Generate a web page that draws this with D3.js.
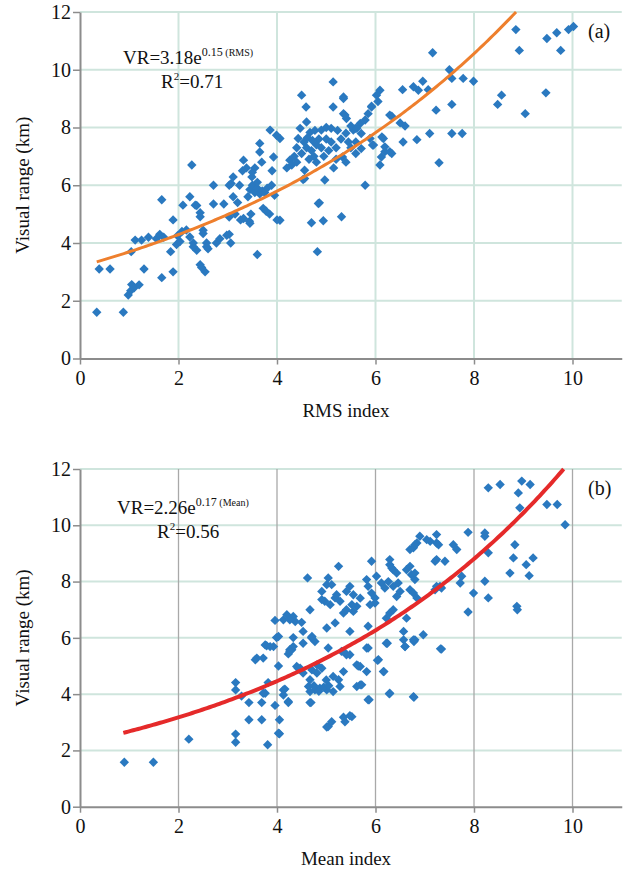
<!DOCTYPE html>
<html>
<head>
<meta charset="utf-8">
<script src="https://cdn.jsdelivr.net/npm/d3@7"></script>
<style>
  body { margin: 0; background: #fff; }
  svg text { font-family: "Liberation Serif", "Times New Roman", serif; fill: #111; }
</style>
</head>
<body>
<script>
//data (x index, visual range km)
var rmsPoints = [
  [0.34,1.6],[0.88,1.6],[0.39,3.1],[0.61,3.1],
  [0.98,2.2],[1.03,2.35],[1.05,2.56],[1.1,2.45],[1.2,2.55],[1.3,3.1],
  [1.04,3.7],[1.12,4.1],[1.25,4.1],[1.39,4.2],[1.55,4.15],[1.62,4.3],[1.7,4.2],
  [1.66,5.5],[1.66,2.8],[1.89,3.0],[1.84,3.7],[1.89,4.8],[1.96,3.95],[2.03,4.05],[1.98,4.25],
  [2.09,5.31],[2.23,5.6],[2.16,4.45],[2.07,4.4],[2.37,5.3],[2.44,5.05],[2.3,4.0],[2.37,3.75],
  [2.44,3.25],[2.54,3.0],[2.5,4.44],[2.57,4.0],[2.6,3.8],[2.71,6.0],[2.71,5.35],[2.77,4.0],
  [2.84,4.15],[2.92,5.35],[2.27,6.7],[2.23,4.21],[2.5,4.33],[2.57,3.87],[2.3,3.87],[2.98,4.27],[2.47,3.15],
  [2.34,5.31],[2.44,4.91],
  [3.03,6.0],[3.11,5.6],[3.03,4.9],[3.06,4.0],[3.03,4.3],[3.24,6.0],[3.26,4.8],[3.41,5.6],
  [3.44,4.75],[3.47,5.0],[3.6,3.6],[3.45,5.85],[3.5,6.0],[3.55,5.75],[3.6,5.9],[3.65,5.7],
  [3.7,5.8],[3.75,5.75],[3.8,5.9],[3.72,5.2],[3.78,5.1],[3.85,5.0],[4.0,4.8],[3.95,5.65],
  [3.89,6.0],[3.11,6.29],[3.07,6.06],[3.49,6.29],[3.32,6.87],[3.38,6.6],[3.65,7.45],[3.65,7.15],
  [3.69,6.8],[3.93,6.98],[3.9,6.5],[3.86,7.91],[3.99,7.73],[4.06,7.62],[3.2,5.4],[3.5,6.45],
  [3.3,6.5],[3.6,6.1],[3.55,6.6],[3.15,5.0],[3.32,4.85],[3.45,4.68],[4.06,4.79],
  [4.26,6.87],[4.56,6.52],[4.56,6.23],[4.5,9.12],[4.59,8.71],[4.6,8.19],[4.47,7.97],[4.67,7.83],
  [4.77,7.9],[4.9,7.91],[4.43,7.62],[4.53,6.2],[4.86,5.39],[4.7,4.7],[4.94,4.77],[4.82,3.7],
  [4.84,5.37],[4.97,6.18],[4.3,6.7],[4.35,7.0],[4.4,6.8],[4.5,7.1],[4.6,7.3],[4.7,7.2],
  [4.75,7.0],[4.8,7.4],[4.85,7.6],[4.9,7.3],[4.95,7.0],[4.65,6.9],[4.4,7.3],[4.55,7.5],
  [4.8,6.8],[4.2,6.6],[4.62,7.65],[4.72,7.55],
  [5.14,9.58],[5.35,9.06],[5.14,8.71],[5.35,8.48],[5.41,8.31],[5.1,7.97],[5.23,7.9],[5.31,4.91],
  [5.55,7.91],[5.71,7.79],[5.69,8.14],[5.59,7.97],[5.79,8.26],[5.85,8.48],[5.92,8.71],[5.79,6.0],
  [5.94,7.39],[5.71,7.27],[5.33,6.98],[5.89,7.62],[5.96,7.39],[5.35,9.0],[5.38,8.43],[5.0,7.6],
  [5.05,7.2],[5.1,7.5],[5.2,7.3],[5.3,7.6],[5.4,7.8],[5.45,7.5],[5.5,7.3],[5.6,7.1],
  [5.2,6.9],[5.15,6.6],[5.4,6.8],[5.6,7.5],[5.0,8.0],[5.5,8.05],[5.62,7.97],
  [6.09,9.29],[6.02,9.12],[6.29,8.43],[6.09,6.7],[6.12,6.98],[6.19,7.16],[6.29,7.16],[6.16,7.62],
  [6.13,7.67],[6.19,7.33],[6.33,7.1],[6.55,9.31],[6.77,9.41],[6.87,9.29],[6.96,9.6],[6.33,8.39],
  [6.5,8.16],[6.6,8.05],[6.84,7.58],[6.56,7.5],[5.92,8.74],[6.05,8.9],
  [7.07,9.31],[7.16,10.59],[7.5,10.0],[7.55,9.7],[7.78,9.7],[7.99,9.6],[7.23,8.6],[7.55,8.8],
  [7.55,7.79],[7.76,7.79],[7.1,7.79],[7.29,6.78],[8.56,9.12],[8.48,8.8],[9.04,8.48],[9.46,9.2],
  [8.85,11.39],[8.92,10.67],[9.48,11.08],[9.68,11.28],[9.76,10.67],[9.92,11.39],[10.02,11.5]
];

var meanPoints = [
  [0.9,1.58],[1.49,1.58],[2.21,2.4],[3.16,2.58],[3.16,2.29],[3.81,2.2],[4.05,2.59],[4.05,3.09],
  [3.69,3.09],[3.43,3.09],[3.96,3.6],[3.43,3.7],[3.69,3.7],[4.23,3.7],[4.13,3.97],[4.16,4.18],
  [3.16,4.41],[3.16,4.15],[3.28,3.93],[3.76,4.03],[3.82,4.41],[3.56,5.22],[3.72,5.28],[3.79,5.72],
  [3.93,5.69],[4.03,5.0],[4.23,5.43],[4.3,5.58],[4.43,4.92],[4.53,4.75],[4.67,3.7],
  [4.62,8.13],[4.67,7.0],[3.96,6.62],[4.13,6.64],[4.2,6.82],[4.33,6.76],[4.37,6.58],[3.99,6.01],
  [4.33,6.01],[4.53,6.23],[4.5,6.55],[4.26,5.58],[3.76,5.75],[3.86,5.69],[4.7,6.0],
  [5.25,8.54],[5.92,8.72],[5.04,8.13],[5.01,7.89],[5.11,7.89],[5.48,7.83],[5.41,7.65],[5.55,7.53],
  [5.69,7.41],[5.62,7.12],[5.55,6.94],[5.82,8.07],[5.85,7.83],[5.92,7.59],[5.99,7.42],[6.02,8.19],
  [6.12,7.95],[6.19,7.77],[5.89,7.18],[5.99,7.24],[6.29,8.6],[6.36,8.42],[6.43,8.3],[6.26,8.0],
  [6.36,7.83],[6.46,7.95],[6.5,7.65],[6.43,7.47],[6.63,8.42],[6.73,8.24],[6.8,8.07],[6.77,9.2],
  [6.84,9.37],[6.7,7.71],[6.77,7.59],[6.84,7.42],[7.11,9.43],[7.24,9.37],[7.21,8.72],[7.41,8.72],
  [7.24,7.83],[7.34,7.77],[6.29,6.88],[6.36,7.0],[6.22,6.7],[6.63,6.7],[6.57,6.23],[6.57,5.93],
  [6.6,5.69],[6.77,5.93],[6.97,6.11],[7.32,5.61],[6.22,5.81],[6.16,4.8],[6.06,5.22],[6.29,4.03],
  [6.77,3.91],[5.85,3.8],[5.82,5.64],[5.85,6.41],[5.48,6.23],[5.18,6.53],[5.01,6.35],[5.04,5.64],
  [5.31,5.52],[5.41,5.4],[5.62,5.04],[5.69,4.98],[5.82,4.8],[5.69,4.33],[5.62,4.27],[5.35,4.8],
  [5.14,4.63],[5.25,4.51],[5.28,4.27],[5.14,4.09],[5.01,4.15],[4.87,4.21],[4.77,4.15],[4.67,4.09],
  [4.64,4.27],[4.67,4.51],[4.81,4.75],[4.91,4.92],[4.81,5.04],[4.71,4.86],[4.47,4.92],[4.4,4.98],
  [5.04,2.85],[5.11,3.02],[5.38,3.02],[5.52,3.2],[4.03,2.61],[4.23,3.74],[4.13,4.15],[3.72,4.03],
  [4.03,6.05],[3.59,5.28],[4.26,6.64],[4.53,5.81],[4.33,5.69],[4.26,5.52],[4.77,5.87],[4.71,6.05],
  [4.97,7.3],[4.91,7.36],[5.08,7.18],[5.18,7.42],[5.28,7.3],[5.35,6.88],[5.41,7.0],[5.52,7.18],
  [4.91,7.65],[5.21,7.53],
  [8.29,11.33],[8.53,11.45],[8.97,11.57],[9.14,11.45],[8.9,11.15],[8.93,10.62],[9.48,10.74],[9.69,10.74],
  [9.85,10.02],[7.88,9.75],[8.22,9.73],[8.22,9.61],[8.29,9.02],[8.83,9.31],[8.8,8.84],[8.73,8.3],
  [9.06,8.6],[9.2,8.84],[9.12,8.21],[8.87,7.12],[8.88,7.0],[8.22,8.01],[8.29,7.42],[7.99,7.59],
  [7.88,6.92],[7.75,8.19],[7.72,7.95],[7.31,7.83],[7.21,7.71],[7.58,9.31],[7.65,9.14],[7.24,9.67],
  [7.28,9.31],[7.24,8.78],[6.9,9.61],[7.04,9.49],[6.8,9.31],[6.7,9.14],[6.29,8.78],[6.33,8.48],
  [6.7,8.54],[6.8,8.3],[6.8,5.93],[5.85,5.64],
  [7.34,5.6],[6.78,3.89],[6.28,4.01],[5.87,3.8],[6.17,4.8],[6.04,5.2],[5.65,5.0],[5.72,4.33],
  [5.48,5.4],[5.35,5.52],[6.24,5.81],[6.6,5.69],[6.78,5.87],[5.35,3.18],[5.48,3.23],[5.01,2.83],
  [4.69,3.7],[4.75,4.3],[4.85,4.1],[4.95,4.25],[5.05,4.3],[5.0,4.5]
];

//fitted curves VR = a * e^(b*x)
var rmsFit = { a: 3.18, b: 0.15, from: 0.34 };
var meanFit = { a: 2.26, b: 0.17, from: 0.88 };

var xTicks = [0, 2, 4, 6, 8, 10];
var yTicks = [0, 2, 4, 6, 8, 10, 12];

var width = 623;
var height = 870;
var serif = "'Liberation Serif', 'Times New Roman', serif";

var svg = d3.select("body").append("svg")
    .attr("width", width)
    .attr("height", height);

svg.append("rect").attr("width", width).attr("height", height).attr("fill", "#fff");

//panel (a)
drawPanel({
    top: 12, bottom: 358.5,
    points: rmsPoints, fit: rmsFit,
    fitColor: "#ee7f2d", fitWidth: 3,
    vGridColor: "#cfe5dd",
    xLabel: "RMS index", xLabelY: 417,
    letter: "(a)", letterY: 38,
    eq: { x: 123, y: 64, main: "VR=3.18e", sup: "0.15", supSmall: " (RMS)" },
    r2: { x: 161, y: 88, value: "=0.71" }
});

//panel (b)
drawPanel({
    top: 469, bottom: 806.7,
    points: meanPoints, fit: meanFit,
    fitColor: "#e52a2a", fitWidth: 4,
    vGridColor: "#a9a9a9",
    xLabel: "Mean index", xLabelY: 865,
    letter: "(b)", letterY: 495,
    eq: { x: 117, y: 514, main: "VR=2.26e", sup: "0.17", supSmall: " (Mean)" },
    r2: { x: 157, y: 538, value: "=0.56" }
});

function drawPanel(cfg) {
    var x = d3.scaleLinear().domain([0, 11]).range([80, 80 + 11 * 49.25]);
    var y = d3.scaleLinear().domain([0, 12]).range([cfg.bottom, cfg.top]);

    var g = svg.append("g");

    //horizontal gridlines
    g.selectAll("line.hgrid")
        .data(yTicks.filter(function (d) { return d > 0; }))
        .enter().append("line")
        .attr("class", "hgrid")
        .attr("x1", x(0)).attr("x2", x(11))
        .attr("y1", function (d) { return y(d); })
        .attr("y2", function (d) { return y(d); })
        .attr("stroke", "#cfe5dd")
        .attr("stroke-width", 2);

    //vertical gridlines
    g.selectAll("line.vgrid")
        .data(xTicks.filter(function (d) { return d > 0; }))
        .enter().append("line")
        .attr("class", "vgrid")
        .attr("x1", function (d) { return x(d); })
        .attr("x2", function (d) { return x(d); })
        .attr("y1", y(12)).attr("y2", y(0))
        .attr("stroke", cfg.vGridColor)
        .attr("stroke-width", cfg.vGridColor == "#a9a9a9" ? 1.3 : 2);

    //axes
    var xAxis = g.append("g")
        .attr("transform", "translate(0," + y(0) + ")")
        .call(d3.axisBottom(x).tickValues(xTicks).tickSize(6).tickSizeOuter(0).tickPadding(6)
            .tickFormat(d3.format("d")));
    var yAxis = g.append("g")
        .attr("transform", "translate(" + x(0) + ",0)")
        .call(d3.axisLeft(y).tickValues(yTicks).tickSize(7).tickSizeOuter(0).tickPadding(2)
            .tickFormat(d3.format("d")));

    [xAxis, yAxis].forEach(function (a) {
        a.attr("font-family", null).style("font-family", serif);
        a.select(".domain").attr("stroke", "#8c8c8c").attr("stroke-width", 2);
        a.selectAll(".tick line").attr("stroke", "#8c8c8c").attr("stroke-width", 1.5);
        a.selectAll(".tick text")
            .style("font-family", serif)
            .style("font-size", "20px")
            .attr("fill", "#111");
    });

    //points as diamonds
    var diamond = d3.symbol().type(d3.symbolSquare).size(44);
    g.selectAll("path.pt")
        .data(cfg.points)
        .enter().append("path")
        .attr("class", "pt")
        .attr("d", diamond)
        .attr("transform", function (d) { return "translate(" + x(d[0]) + "," + y(d[1]) + ") rotate(45)"; })
        .attr("fill", "#2a79c0");

    //fitted exponential curve, stopped at the top of the plot
    var xEnd = Math.log(12 / cfg.fit.a) / cfg.fit.b;
    var curveX = d3.range(cfg.fit.from, xEnd, 0.05).concat([xEnd]);
    var line = d3.line()
        .x(function (d) { return x(d); })
        .y(function (d) { return y(cfg.fit.a * Math.exp(cfg.fit.b * d)); });
    g.append("path")
        .datum(curveX)
        .attr("d", line)
        .attr("fill", "none")
        .attr("stroke", cfg.fitColor)
        .attr("stroke-width", cfg.fitWidth);

    //axis titles
    g.append("text")
        .attr("x", 346).attr("y", cfg.xLabelY)
        .attr("text-anchor", "middle")
        .attr("font-size", 19)
        .text(cfg.xLabel);
    g.append("text")
        .attr("transform", "translate(29," + ((cfg.top + cfg.bottom) / 2) + ") rotate(-90)")
        .attr("text-anchor", "middle")
        .attr("font-size", 19)
        .text("Visual range (km)");

    //panel letter
    g.append("text")
        .attr("x", 588).attr("y", cfg.letterY)
        .attr("font-size", 20)
        .text(cfg.letter);

    //equation
    var eq = g.append("text")
        .attr("x", cfg.eq.x).attr("y", cfg.eq.y)
        .attr("font-size", 19);
    eq.append("tspan").text(cfg.eq.main);
    eq.append("tspan").attr("dy", -8).attr("font-size", 12).text(cfg.eq.sup);
    eq.append("tspan").attr("font-size", 10).text(cfg.eq.supSmall);

    var r2 = g.append("text")
        .attr("x", cfg.r2.x).attr("y", cfg.r2.y)
        .attr("font-size", 19);
    r2.append("tspan").text("R");
    r2.append("tspan").attr("dy", -8).attr("font-size", 11).text("2");
    r2.append("tspan").attr("dy", 8).text(cfg.r2.value);
}
</script>
</body>
</html>
